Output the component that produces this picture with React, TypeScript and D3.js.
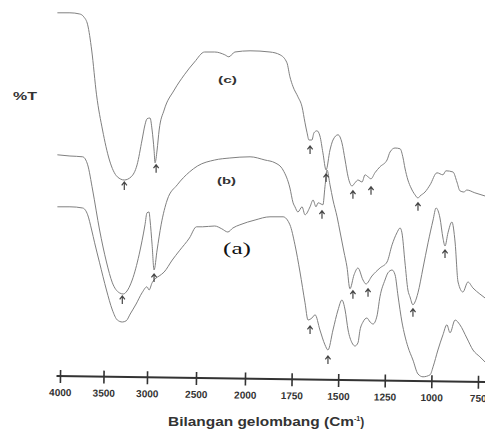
import { useEffect, useRef } from 'react'
import * as d3 from 'd3'

const W = 485
const H = 432

// wavenumber ticks (cm-1); the scanned axis changes scale at 2000
const tickValues = [4000, 3500, 3000, 2500, 2000, 1750, 1500, 1250, 1000, 750]

// [wavenumber, %T]
const spectrumC: [number, number][] = [
  [4030, 96.8], [3886, 96.8], [3773, 96.5], [3727, 95.8], [3682, 93.8], [3636, 87.5], [3580, 76.3],
  [3511, 67.5], [3432, 60], [3341, 55.8], [3261, 55], [3182, 55.8], [3114, 58.8], [3057, 65],
  [3023, 68.8], [3000, 70.3], [2969, 70.5], [2948, 67.5], [2928, 62.5], [2918, 59.3], [2897, 62.5],
  [2876, 67.5], [2825, 72.5], [2722, 77.5], [2619, 81.3], [2515, 84.5], [2412, 87], [2309, 87],
  [2206, 86.3], [2165, 85.8], [2103, 87], [1973, 87.3], [1866, 87], [1812, 86.3], [1775, 84.3],
  [1759, 80.8], [1742, 78.3], [1716, 75.8], [1694, 73.3], [1678, 69.3], [1667, 66.8], [1657, 65],
  [1641, 65], [1630, 66.8], [1614, 67.3], [1598, 66], [1582, 61.8], [1565, 57.5], [1544, 62.5],
  [1528, 65], [1501, 66.3], [1480, 64.3], [1463, 60], [1447, 55.8], [1426, 53.5], [1410, 54.3],
  [1394, 55], [1372, 54.5], [1356, 56.3], [1340, 55.8], [1324, 55.3], [1303, 56.8], [1276, 58.3],
  [1238, 60], [1222, 62], [1195, 63], [1168, 62.8], [1152, 60.5], [1142, 58], [1126, 55],
  [1109, 53], [1088, 51.3], [1072, 50.5], [1061, 51], [1034, 52], [1007, 53.8], [970, 56.8],
  [938, 56.3], [922, 57.3], [884, 57], [863, 54.5], [847, 52.3], [826, 52], [810, 52.5],
  [767, 51.8], [712, 51],
]

const spectrumB: [number, number][] = [
  [4030, 61.3], [3886, 61], [3739, 60.8], [3682, 58.8], [3625, 52.5], [3545, 42.5], [3466, 34.5],
  [3398, 29.3], [3318, 26.8], [3273, 26.5], [3239, 27], [3170, 30], [3091, 36.3], [3023, 43.8],
  [3000, 46.8], [2979, 47], [2969, 45], [2948, 38.8], [2928, 32.5], [2897, 37.5], [2856, 43.8],
  [2794, 50], [2691, 53.8], [2567, 57], [2485, 58.5], [2309, 60], [2155, 60.5], [1973, 60.8],
  [1893, 60], [1839, 59.3], [1796, 57.5], [1759, 53], [1742, 49.3], [1732, 48.3], [1716, 47],
  [1694, 48.3], [1678, 46.3], [1651, 48.3], [1635, 50], [1619, 48.3], [1608, 49.3], [1592, 49],
  [1582, 48.8], [1571, 53.3], [1560, 57.5], [1544, 53.8], [1528, 50], [1506, 45.8], [1490, 42],
  [1469, 37], [1453, 33.3], [1437, 27.8], [1415, 31.3], [1394, 33], [1367, 30], [1351, 29],
  [1319, 31], [1276, 33], [1238, 34.5], [1211, 38.8], [1185, 41.8], [1168, 43], [1158, 41.8],
  [1142, 34.5], [1126, 27.5], [1115, 25.8], [1099, 23.8], [1088, 24.5], [1072, 26.8], [1045, 33],
  [1018, 39.3], [991, 45], [975, 48], [954, 45.5], [938, 40.5], [927, 38.5], [911, 41.8],
  [890, 44.5], [873, 39.5], [857, 29.5], [831, 27], [804, 29.5], [777, 28], [740, 26.5], [712, 25.5],
]

const spectrumA: [number, number][] = [
  [4030, 48.3], [3886, 48.3], [3739, 48], [3682, 46.3], [3636, 42.5], [3602, 39.3], [3545, 34.3],
  [3466, 27.5], [3398, 22.5], [3341, 20], [3284, 19.5], [3239, 19.8], [3193, 21.5], [3125, 24],
  [3057, 26.8], [3000, 28.3], [2979, 27.5], [2948, 29.3], [2907, 30.5], [2876, 31], [2825, 32],
  [2742, 35], [2670, 37.3], [2567, 40.5], [2495, 43.3], [2433, 43.3], [2309, 43.5], [2237, 42.8],
  [2175, 42], [2124, 43], [2052, 43.8], [1946, 45], [1866, 45.8], [1796, 45.8], [1759, 43.8],
  [1732, 38.8], [1705, 32], [1678, 24.3], [1662, 20], [1641, 20.5], [1624, 21.3], [1598, 17.5],
  [1571, 13.8], [1555, 12.5], [1528, 17.5], [1501, 22.5], [1480, 25], [1463, 22.5], [1447, 17.5],
  [1426, 14.3], [1410, 13.5], [1394, 14.3], [1383, 17.5], [1367, 19.5], [1346, 20.5], [1329, 19.5],
  [1313, 19], [1292, 21], [1276, 25.8], [1249, 30], [1233, 31.8], [1211, 32.5], [1195, 31.3],
  [1179, 26], [1158, 19.5], [1142, 16], [1126, 13.3], [1099, 10], [1072, 6.5], [1045, 5.8],
  [1007, 6.3], [991, 8.3], [965, 12.5], [938, 16.3], [917, 18.8], [900, 16.8], [873, 20],
  [847, 18.8], [810, 15.5], [777, 12.5], [740, 10.8], [712, 9.5],
]

// peak markers: [wavenumber, %T at arrow tip]
const arrowsC: [number, number][] = [
  [3261, 54.5], [2907, 58.8], [1651, 63.5], [1565, 56.5], [1421, 52.3], [1324, 53.3], [1072, 49.3],
]
const arrowsB: [number, number][] = [
  [3284, 26], [2928, 31.5], [1587, 47.3], [1421, 27.3], [1340, 27.8], [1099, 22.8], [927, 37.5],
]
const arrowsA: [number, number][] = [[1651, 18.5], [1555, 11]]

export default function App() {
  const svgRef = useRef<SVGSVGElement>(null)

  useEffect(() => {
    const svg = d3.select(svgRef.current)
    svg.selectAll('*').remove()

    const x = d3.scaleLinear().domain([4000, 3000, 2000, 750]).range([60, 147, 245, 478])
    const y = d3.scaleLinear().domain([0, 100]).range([400, 0])

    svg.append('rect').attr('width', W).attr('height', H).attr('fill', '#fff')

    const line = d3.line<[number, number]>()
      .x(d => x(d[0]))
      .y(d => y(d[1]))
      .curve(d3.curveMonotoneX)

    const series = [spectrumC, spectrumB, spectrumA]
    svg.selectAll('path.spec')
      .data(series)
      .join('path')
      .attr('class', 'spec')
      .attr('d', d => line(d))
      .attr('fill', 'none')
      .attr('stroke', '#808080')
      .attr('stroke-width', 1)

    // little up-arrows under the marked bands
    const allArrows = [...arrowsC, ...arrowsB, ...arrowsA]
    svg.selectAll('path.arrow')
      .data(allArrows)
      .join('path')
      .attr('class', 'arrow')
      .attr('d', d => {
        const cx = x(d[0]), cy = y(d[1])
        return `M${cx - 2.6},${cy + 3.4}L${cx},${cy}L${cx + 2.6},${cy + 3.4}M${cx},${cy}V${cy + 8}`
      })
      .attr('fill', 'none')
      .attr('stroke', '#444')
      .attr('stroke-width', 1.2)

    // axis, slightly tilted like the scan
    const axisY = 376
    const sans = 'Liberation Sans, Arial, sans-serif'
    const ag = svg.append('g').attr('transform', `rotate(0.8, 60, ${axisY}) translate(0,${axisY})`)
    ag.call(d3.axisBottom(x).tickValues(tickValues).tickSize(7).tickFormat(d => String(d)))
      .call(gg => {
        gg.select('.domain').remove()
        gg.selectAll('.tick line').attr('y1', -6).attr('stroke', '#333').attr('stroke-width', 1.6)
        gg.selectAll('.tick text')
          .attr('y', 20).attr('dy', 0)
          .attr('fill', '#333')
          .attr('font-family', sans)
          .attr('font-weight', 'bold')
          .attr('font-size', '10px')
      })
    ag.append('line')
      .attr('x1', x(4040)).attr('x2', W + 2)
      .attr('y1', 0).attr('y2', 0)
      .attr('stroke', '#333').attr('stroke-width', 2)

    svg.append('text').text('%T')
      .attr('x', 13).attr('y', 100)
      .attr('font-family', sans).attr('font-weight', 'bold').attr('font-size', '10px')
      .attr('fill', '#333').attr('textLength', 24).attr('lengthAdjust', 'spacingAndGlyphs')

    const tagC = svg.append('text').text('(c)')
      .attr('x', 218).attr('y', 83)
    const tagB = svg.append('text').text('(b)')
      .attr('x', 217).attr('y', 184)
    ;[tagC, tagB].forEach(t => t
      .attr('font-family', sans).attr('font-weight', 'bold').attr('font-size', '9px')
      .attr('fill', '#333').attr('textLength', 19).attr('lengthAdjust', 'spacingAndGlyphs'))

    svg.append('text').text('(a)')
      .attr('x', 223).attr('y', 254)
      .attr('font-family', 'Liberation Serif, Times New Roman, serif').attr('font-size', '16px')
      .attr('fill', '#111').attr('textLength', 28).attr('lengthAdjust', 'spacingAndGlyphs')

    const title = svg.append('text')
      .attr('x', 168).attr('y', 426)
      .attr('font-family', sans).attr('font-weight', 'bold').attr('font-size', '12px')
      .attr('fill', '#333')
    title.append('tspan').text('Bilangan gelombang (Cm')
      .attr('textLength', 186).attr('lengthAdjust', 'spacingAndGlyphs')
    title.append('tspan').text('-1').attr('font-size', '7px').attr('dy', -5)
    title.append('tspan').text(')').attr('dy', 5)
  }, [])

  return (
    <div style={{ position: 'absolute', left: 0, top: 0 }}>
      <svg ref={svgRef} width={W} height={H} style={{ display: 'block' }} />
    </div>
  )
}
